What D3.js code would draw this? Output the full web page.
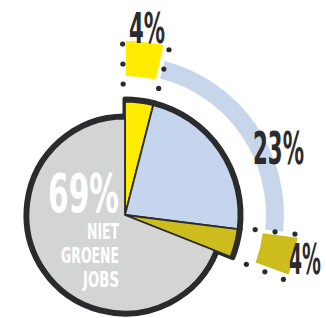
<!DOCTYPE html>
<html>
<head>
<meta charset="utf-8">
<script src="https://cdn.jsdelivr.net/npm/d3@7"></script>
<style>
  body { margin: 0; background: #fff; }
  svg { display: block; }
</style>
</head>
<body>
<div id="chart"></div>
<script>
// slices, clockwise from 12 o'clock
var categories = ["groen1", "groen2", "groen3", "nietGroen"];
var values = [4, 23, 4, 69];
var labels = ["4%", "23%", "4%", "69%"];
var subLabel = ["NIET", "GROENE", "JOBS"];
var colors = ["#ffec00", "#c6d5ee", "#cdbd1c", "#d3d5d5"];

var width = 326, height = 318;
var cx = 125, cy = 215;
var dark = "#2b2b2d";

var svg = d3.select("#chart").append("svg")
    .attr("width", width)
    .attr("height", height);

var g = svg.append("g").attr("transform", "translate(" + cx + "," + cy + ")");

var pie = d3.pie().sort(null).value(function(d) { return d; });
var slices = pie(values);

// green slices stick out further than the grey one
function radiusOf(i) { return categories[i] === "nietGroen" ? 99 : 116; }

var deg = Math.PI / 180;

// light blue band around the 23% slice
var band = slices[1];
g.append("path")
    .attr("d", d3.arc()({ innerRadius: 141, outerRadius: 159,
        startAngle: band.startAngle, endAngle: band.endAngle - 1.2 * deg }))
    .attr("fill", "#c8d6ec");

// thick outline underlay
g.selectAll("path.under")
  .data(slices)
  .enter().append("path")
    .attr("class", "under")
    .attr("d", function(d, i) {
        return d3.arc().innerRadius(0).outerRadius(radiusOf(i))(d);
    })
    .attr("fill", dark)
    .attr("stroke", dark)
    .attr("stroke-width", 5)
    .attr("stroke-linejoin", "round");

// slice fills with thin separators
g.selectAll("path.slice")
  .data(slices)
  .enter().append("path")
    .attr("class", "slice")
    .attr("d", function(d, i) {
        return d3.arc().innerRadius(0).outerRadius(radiusOf(i) - 2.5)(d);
    })
    .attr("fill", function(d, i) { return colors[i]; })
    .attr("stroke", dark)
    .attr("stroke-width", 1.8)
    .attr("stroke-linejoin", "round");

// the two small 4% blocks with their dotted corners
[0, 2].forEach(function(i) {
    var s = slices[i];
    g.append("path")
        .attr("d", d3.arc()({ innerRadius: 139, outerRadius: 174,
            startAngle: s.startAngle + 0.3 * deg, endAngle: s.endAngle - 1.6 * deg }))
        .attr("fill", colors[i]);

    var dotAngles = [s.startAngle - 0.8 * deg, s.endAngle + 0.5 * deg];
    var dotRadii = [131, 151, 171];
    dotAngles.forEach(function(a) {
        dotRadii.forEach(function(r) {
            g.append("circle")
                .attr("cx", r * Math.sin(a))
                .attr("cy", -r * Math.cos(a))
                .attr("r", 2.6)
                .attr("fill", dark);
        });
    });
});

var font = "'DejaVu Sans Condensed', 'DejaVu Sans', sans-serif";

// squeeze text horizontally so it reads like the condensed poster font
function addText(txt, x, y, size, len, fill, anchor) {
    var t = svg.append("text")
        .attr("font-family", font)
        .attr("font-weight", "bold")
        .attr("font-size", size)
        .attr("fill", fill)
        .attr("text-anchor", anchor || "start")
        .text(txt);
    var sx = len / t.node().getComputedTextLength();
    t.attr("transform", "translate(" + x + "," + y + ") scale(" + sx + ",1)");
}

addText(labels[0], 129, 43, 42, 36, dark);
addText(labels[1], 253, 164, 44, 51, dark);
addText(labels[2], 289, 274, 42, 32, dark);

addText(labels[3], 119, 212, 53, 71, "#fff", "end");
var subLen = [32, 58, 36];
subLabel.forEach(function(t, i) {
    addText(t, 119, 239 + i * 24, 22, subLen[i], "#fff", "end");
});
</script>
</body>
</html>
